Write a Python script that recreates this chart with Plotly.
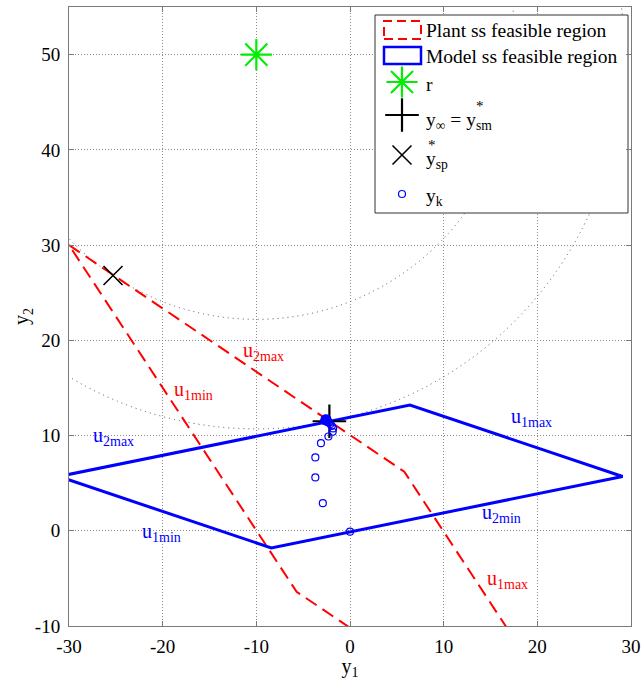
import plotly.graph_objects as go

# ---------------- data ----------------
plant_y1 = [-30.0, 5.8, 30.1, -5.7, -30.0]
plant_y2 = [30.0, 6.2, -30.2, -6.4, 30.0]
model_y1 = [-31.1, 6.4, 29.1, -8.4, -31.1]
model_y2 = [5.7, 13.2, 5.7, -1.8, 5.7]
r_y1, r_y2 = [-10.0], [50.0]
yinf_y1, yinf_y2 = [-2.2], [11.5]
ysp_y1, ysp_y2 = [-25.3], [26.8]
yk_y1 = [0.0, -2.9, -3.7, -3.7, -3.1, -2.3, -1.85, -1.8, -1.95, -2.1, -2.25,
         -2.35, -2.45, -2.55, -2.65, -2.7, -2.6, -2.45, -2.5, -2.75, -2.4]
yk_y2 = [-0.1, 2.9, 5.6, 7.7, 9.2, 9.9, 10.4, 10.75, 11.0, 11.2, 11.35,
         11.45, 11.55, 11.6, 11.65, 11.7, 11.8, 11.75, 11.45, 11.55, 11.65]
contour_radius = [27.8, 39.3]
x_ticks = [-30, -20, -10, 0, 10, 20, 30]
x_tick_labels = ["-30", "-20", "-10", "0", "10", "20", "30"]
y_ticks = [-10, 0, 10, 20, 30, 40, 50]
y_tick_labels = ["-10", "0", "10", "20", "30", "40", "50"]
x_range = [-30, 30]
y_range = [-10, 55]

FONT = "Liberation Serif"
RED = "#ff0000"
BLUE = "#0000ff"
GREEN = "#00ee00"

# plot area in pixels: x 69..631, y 7..626
PX0, PX1, PY0, PY1 = 69, 631, 7, 626

def fx(px):
    return (px - PX0) / (PX1 - PX0)

def fy(py):
    return (PY1 - py) / (PY1 - PY0)

def dx(px):
    return x_range[0] + fx(px) * (x_range[1] - x_range[0])

def dy(py):
    return y_range[0] + fy(py) * (y_range[1] - y_range[0])

fig = go.Figure()

fig.add_trace(go.Scatter(x=plant_y1, y=plant_y2, mode="lines",
                         line=dict(color=RED, width=2, dash="13px,7px"),
                         name="Plant ss feasible region"))
fig.add_trace(go.Scatter(x=model_y1, y=model_y2, mode="lines",
                         line=dict(color=BLUE, width=3),
                         name="Model ss feasible region"))
fig.add_trace(go.Scatter(x=r_y1, y=r_y2, mode="markers",
                         marker=dict(symbol="asterisk-open", size=26, color=GREEN,
                                     line=dict(color=GREEN, width=2.2)),
                         name="r"))
fig.add_trace(go.Scatter(x=yinf_y1, y=yinf_y2, mode="markers",
                         marker=dict(symbol="cross-thin-open", size=24, color="black",
                                     line=dict(color="black", width=2.2)),
                         name="y_inf"))
fig.add_trace(go.Scatter(x=ysp_y1, y=ysp_y2, mode="markers",
                         marker=dict(symbol="x-thin-open", size=19, color="black",
                                     line=dict(color="black", width=1.6)),
                         name="y_sp"))
fig.add_trace(go.Scatter(x=yk_y1, y=yk_y2, mode="markers",
                         marker=dict(symbol="circle-open", size=7, color=BLUE,
                                     line=dict(color=BLUE, width=1.2)),
                         name="y_k"))

# contour circles centred on r
shapes = []
for rad in contour_radius:
    shapes.append(dict(type="circle", xref="x", yref="y", layer="between",
                       x0=r_y1[0] - rad, x1=r_y1[0] + rad,
                       y0=r_y2[0] - rad, y1=r_y2[0] + rad,
                       line=dict(color="#555555", width=1, dash="1px,4px")))

# manual legend box (drawn in data space so it sits between grid and traces)
shapes.append(dict(type="rect", xref="x", yref="y", layer="between",
                   x0=dx(375), x1=dx(628), y0=dy(213), y1=dy(15),
                   fillcolor="white", line=dict(color="#333333", width=1)))
shapes.append(dict(type="rect", xref="x", yref="y", layer="between",
                   x0=dx(384), x1=dx(421), y0=dy(39), y1=dy(21),
                   line=dict(color=RED, width=2, dash="9px,5px")))
shapes.append(dict(type="rect", xref="x", yref="y", layer="between",
                   x0=dx(384), x1=dx(421), y0=dy(64), y1=dy(47),
                   line=dict(color=BLUE, width=2.5)))

# legend icon markers on an invisible overlay axis (0..1 = plot area)
leg_x = fx(402)
def leg_marker(symbol, py, size, color, width):
    fig.add_trace(go.Scatter(x=[leg_x], y=[fy(py)], xaxis="x2", yaxis="y2", mode="markers",
                             marker=dict(symbol=symbol, size=size, color=color,
                                         line=dict(color=color, width=width)),
                             showlegend=False, hoverinfo="skip"))

leg_marker("asterisk-open", 82, 26, GREEN, 2.2)
leg_marker("cross-thin-open", 115, 24, "black", 2.2)
leg_marker("x-thin-open", 155, 19, "black", 1.6)
leg_marker("circle-open", 194, 7, BLUE, 1.2)

annotations = []
def leg_text(txt, py, size=19.5):
    annotations.append(dict(text=txt, xref="paper", yref="paper", x=fx(424), y=fy(py),
                            xanchor="left", yanchor="middle", showarrow=False,
                            font=dict(family=FONT, size=size, color="black")))

leg_text("Plant ss feasible region", 31)
leg_text("Model ss feasible region", 56)
leg_text("r", 84)
leg_text("y<sub>∞</sub> = y<sub>sm</sub>", 121)
leg_text("y<sub>sp</sub>", 160)
leg_text("y<sub>k</sub>", 197)
# superscript stars stacked over the subscripts
for sx, sy in [(480, 106), (432, 145)]:
    annotations.append(dict(text="*", xref="paper", yref="paper", x=fx(sx), y=fy(sy),
                            xanchor="center", yanchor="middle", showarrow=False,
                            font=dict(family=FONT, size=15, color="black")))

# constraint labels
def u_label(sub, x, y, color):
    annotations.append(dict(text="u<sub>" + sub + "</sub>", xref="x", yref="y", x=x, y=y,
                            xanchor="left", yanchor="middle", showarrow=False,
                            font=dict(family=FONT, size=20, color=color)))

u_label("2max", -11.6, 18.85, RED)
u_label("1min", -19.0, 14.75, RED)
u_label("1max", 14.4, -5.1, RED)
u_label("2max", -27.7, 9.85, BLUE)
u_label("1min", -22.4, -0.15, BLUE)
u_label("1max", 17.0, 11.85, BLUE)
u_label("2min", 13.9, 1.85, BLUE)

axis_common = dict(showgrid=True, gridcolor="#8a8a8a", griddash="1px,2px", gridwidth=1,
                   zeroline=False, showline=True, linecolor="#7a7a7a", linewidth=1,
                   mirror="ticks", ticks="inside", ticklen=5, tickcolor="#7a7a7a",
                   automargin=False,
                   tickfont=dict(family=FONT, size=19, color="black"))

fig.update_layout(
    width=644, height=680,
    margin=dict(l=PX0, r=644 - PX1, t=PY0, b=680 - PY1),
    plot_bgcolor="white", paper_bgcolor="white",
    showlegend=False,
    font=dict(family=FONT, size=18, color="black"),
    xaxis=dict(range=x_range, tickvals=x_ticks, ticktext=x_tick_labels, ticklabelstandoff=3,
               title=dict(text="y<sub>1</sub>", font=dict(family=FONT, size=20), standoff=2),
               **axis_common),
    yaxis=dict(range=y_range, tickvals=y_ticks, ticktext=y_tick_labels, ticklabelstandoff=4,
               title=dict(text="y<sub>2</sub>", font=dict(family=FONT, size=20), standoff=0),
               **axis_common),
    xaxis2=dict(overlaying="x", range=[0, 1], visible=False, fixedrange=True, automargin=False),
    yaxis2=dict(overlaying="y", range=[0, 1], visible=False, fixedrange=True, automargin=False),
    shapes=shapes,
    annotations=annotations,
)

fig.write_html("out.html", config={"displayModeBar": False},
               post_script="document.body.style.margin='0';document.body.style.overflow='hidden';")
